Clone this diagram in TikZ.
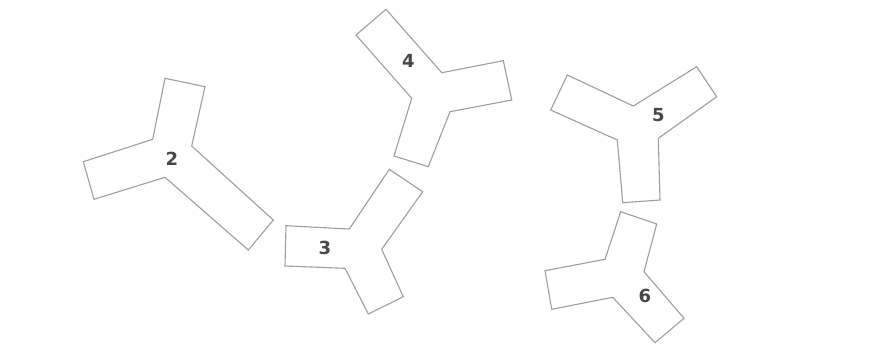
\documentclass[tikz,border=0pt]{standalone}
\usepackage{fontspec}
\setmainfont{DejaVu Sans}
\begin{document}
\begin{tikzpicture}[x=1pt,y=-1pt,
  piece/.style={draw=black!38,line width=1.1pt,line join=miter,fill=white},
  lbl/.style={font=\fontsize{18}{18}\selectfont\bfseries,text=black!72,inner sep=0pt}]
\useasboundingbox[fill=white] (0,0) rectangle (890,360);
% piece 2
\draw[piece] (165,78.3) -- (205,86.7) -- (191.7,146) -- (273.3,220) -- (248.3,250) -- (165,177.3) -- (94,199.3) -- (83.3,161.7) -- (152.7,139.3) -- cycle;
\node[lbl] (p2) at (172,159) {2};
% piece 3
\draw[piece] (389.3,169.3) -- (422.7,191.7) -- (381.7,249.3) -- (403.3,296.7) -- (368.3,314) -- (345,268.3) -- (285,266) -- (286,225.7) -- (349.3,229) -- cycle;
\node[lbl] (p3) at (325,247.5) {3};
% piece 4
\draw[piece] (386,9.3) -- (441.7,72.7) -- (503.3,60.7) -- (511.7,100) -- (450,111.7) -- (428.3,166.7) -- (394,156) -- (411.7,98.3) -- (356,35) -- cycle;
\node[lbl] (p4) at (408.3,61) {4};
% piece 5
\draw[piece] (567.3,75) -- (633.3,106) -- (696.7,66.7) -- (716.7,96.7) -- (658.3,138.3) -- (660,200) -- (622.7,202.7) -- (617.3,140) -- (550.7,110) -- cycle;
\node[lbl] (p5) at (658.3,115) {5};
% piece 6
\draw[piece] (620.7,211.7) -- (656.7,224) -- (644,271.7) -- (684,318.3) -- (655,342.7) -- (612.7,297.3) -- (551.7,309.3) -- (545,270.7) -- (605,259.3) -- cycle;
\node[lbl] (p6) at (645,296) {6};
\end{tikzpicture}
\end{document}
